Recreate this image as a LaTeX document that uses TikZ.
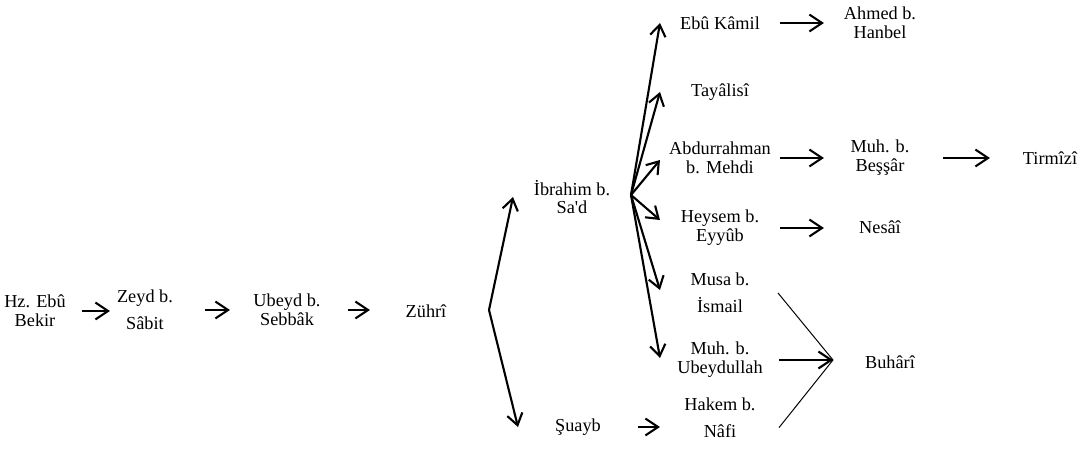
\documentclass[tikz,border=0pt]{standalone}
\usepackage{fontspec}
\setmainfont{Liberation Serif}
\usetikzlibrary{arrows.meta}

\begin{document}
\begin{tikzpicture}[x=0.025cm, y=-0.025cm,
  ravi/.style={align=center, inner sep=0pt, font=\fontsize{13}{13.4}\selectfont},
  arr/.style={-{Straight Barb[length=9pt, width=12pt]}, line width=1.5pt, shorten <=1.5cm, shorten >=1.4cm},
  fan/.style={-{Straight Barb[length=8pt, width=11pt]}, line width=1.5pt},
  joinline/.style={line width=0.7pt}]
  \useasboundingbox (0,0) rectangle (1086,453);

  % Chain up to Zuhri
  \node[ravi] (hz) at (35,311) {Hz. Ebû\\Bekir};
  \node[ravi] (zeyd) at (145,310) {Zeyd b.\\[5.5pt]Sâbit};
  \node[ravi] (ubeyd) at (287,310) {Ubeyd b.\\Sebbâk};
  \node[ravi] (zuhri) at (426,311) {Zührî};

  \draw[arr, shorten <=1.175cm, shorten >=0.875cm] (hz.center) -- (hz.center -| zeyd.center);
  \draw[arr, shorten >=1.425cm] (zeyd.center) -- (zeyd.center -| ubeyd.center);
  \draw[arr, shorten <=1.525cm] (ubeyd.center) -- (ubeyd.center -| zuhri.center);

  % Two students
  \node[ravi] (ibrahim) at (572,197) {İbrahim b.\\Sa\textquotesingle d};
  \node[ravi] (suayb) at (578,427) {Şuayb};

  \coordinate (zfork) at (489,310);
  \draw[fan] (zfork) -- ([xshift=-1.475cm]ibrahim.center);
  \draw[fan] (zfork) -- ([xshift=-1.5cm]suayb.center);

  % Students of Ibrahim
  \node[ravi] (ebu) at (720,23) {Ebû Kâmil};
  \node[ravi] (tay) at (720,92) {Tayâlisî};
  \node[ravi] (abd) at (720,158) {Abdurrahman\\b. Mehdi};
  \node[ravi] (heysem) at (720,228) {Heysem b.\\Eyyûb};
  \node[ravi] (musa) at (720,293) {Musa b.\\[5.5pt]İsmail};
  \node[ravi] (ubeydullah) at (720,360) {Muh. b.\\Ubeydullah};
  \node[ravi] (hakem) at (720,418) {Hakem b.\\[5.5pt]Nâfi};

  \coordinate (ihub) at (631,195);
  \draw[fan] (ihub) -- ([xshift=-1.5cm]ebu.center);
  \draw[fan] (ihub) -- ([xshift=-1.5cm]tay.center);
  \draw[fan] (ihub) -- ([xshift=-1.5cm, yshift=-0.05cm]abd.center);
  \draw[fan] (ihub) -- ([xshift=-1.5cm, yshift=0.2cm]heysem.center);
  \draw[fan] (ihub) -- ([xshift=-1.5cm, yshift=0.075cm]musa.center);
  \draw[fan] (ihub) -- ([xshift=-1.5cm, yshift=0.05cm]ubeydullah.center);

  \draw[arr, shorten <=1.5cm, shorten >=1.5cm] (suayb.center) -- (suayb.center -| hakem.center);

  % Collectors
  \node[ravi] (ahmed) at (880,23) {Ahmed b.\\Hanbel};
  \node[ravi] (besar) at (880,158) {Muh. b.\\Beşşâr};
  \node[ravi] (tirmizi) at (1050,158) {Tirmîzî};
  \node[ravi] (nesai) at (880,227) {Nesâî};
  \node[ravi] (buhari) at (890,362) {Buhârî};

  \draw[arr] (ebu.center) -- (ebu.center -| ahmed.center);
  \draw[arr] (abd.center) -- (abd.center -| besar.center);
  \draw[arr, shorten <=1.575cm, shorten >=1.5cm] (besar.center) -- (besar.center -| tirmizi.center);
  \draw[arr] (heysem.center) -- (heysem.center -| nesai.center);

  \coordinate (bjoin) at (833,360);
  \draw[arr, shorten <=1.475cm, shorten >=0pt] (ubeydullah.center) -- (bjoin);
  \draw[joinline] ([xshift=1.45cm]musa.center) -- (bjoin);
  \draw[joinline] ([xshift=1.475cm, yshift=-0.24cm]hakem.center) -- (bjoin);
\end{tikzpicture}
\end{document}
